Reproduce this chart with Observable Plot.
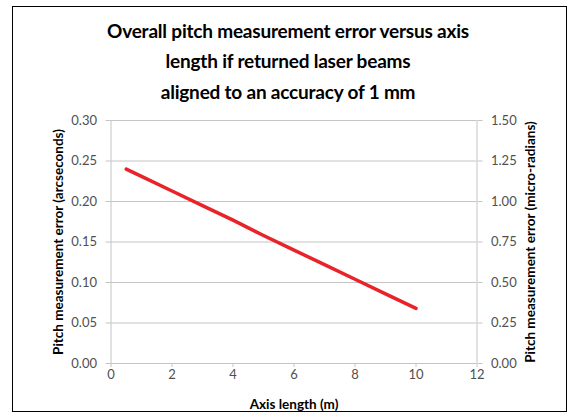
<!DOCTYPE html>
<html><head><meta charset="utf-8">
<script src="https://cdn.jsdelivr.net/npm/d3@7"></script>
<script src="https://cdn.jsdelivr.net/npm/@observablehq/plot@0.6"></script>
<style>
html,body{margin:0;padding:0;background:#fff;}
#wrap{position:relative;width:576px;height:417px;overflow:hidden;font-family:Lato,"Open Sans",sans-serif;background:#fff;}
#frame{position:absolute;left:12px;top:6px;width:555px;height:406px;border:1.5px solid #000;box-sizing:border-box;pointer-events:none;}
#title{height:105px;box-sizing:border-box;padding-top:16px;text-align:center;font-weight:bold;font-size:19px;letter-spacing:-0.2px;line-height:30.3px;color:#000;}
svg{display:block;}
</style></head>
<body>
<div id="wrap">
  <div id="title">Overall pitch measurement error versus axis<br>length if returned laser beams<br>aligned to an accuracy of 1 mm</div>
  <div id="chart"></div>
  <div id="frame"></div>
</div>
<script>
const axisLength = [0.5, 1, 2, 3, 4, 5, 6, 7, 8, 9, 10];
const pitchArcsec = [0.240, 0.231, 0.213, 0.195, 0.177, 0.158, 0.140, 0.122, 0.104, 0.086, 0.068];
const xTicks = [0, 2, 4, 6, 8, 10, 12];
const xTickLabels = ["0", "2", "4", "6", "8", "10", "12"];
const yTicks = [0, 0.05, 0.10, 0.15, 0.20, 0.25, 0.30];
const leftTickLabels = ["0.00", "0.05", "0.10", "0.15", "0.20", "0.25", "0.30"];
const rightTickLabels = ["0.00", "0.25", "0.50", "0.75", "1.00", "1.25", "1.50"];
const xTitle = "Axis length (m)";
const yLeftTitle = "Pitch measurement error (arcseconds)";
const yRightTitle = "Pitch measurement error (micro-radians)";

const data = axisLength.map((x, i) => ({x, y: pitchArcsec[i]}));
const font = 'Lato, "Open Sans", sans-serif';
const tickColor = "#505050";
const gridColor = "#c4c4c4";

const chart = Plot.plot({
  width: 576, height: 312,
  marginLeft: 110.5, marginRight: 99.5, marginTop: 15, marginBottom: 54,
  style: {fontFamily: font, fontSize: "13px", color: tickColor, background: "transparent", overflow: "visible"},
  x: {domain: [0, 12]},
  y: {domain: [0, 0.3]},
  marks: [
    Plot.ruleY(yTicks, {stroke: gridColor, strokeWidth: 1}),
    Plot.ruleX([0, 12], {stroke: gridColor, strokeWidth: 1}),
    Plot.axisX({ticks: xTicks, tickFormat: d => xTickLabels[xTicks.indexOf(d)], tickSize: 4, tickPadding: 2, stroke: gridColor, fill: tickColor, label: null}),
    Plot.axisY({anchor: "left", ticks: yTicks, tickFormat: d => leftTickLabels[yTicks.indexOf(d)], tickSize: 5, tickPadding: 9, stroke: gridColor, fill: tickColor, label: null}),
    Plot.axisY({anchor: "right", ticks: yTicks, tickFormat: d => rightTickLabels[yTicks.indexOf(d)], tickSize: 5, tickPadding: 9, stroke: gridColor, fill: tickColor, label: null}),
    Plot.line(data, {x: "x", y: "y", stroke: "#e8232a", strokeWidth: 3.5}),
    Plot.text([yLeftTitle], {frameAnchor: "left", textAnchor: "middle", rotate: -90, dx: -52, fontWeight: "bold", fill: "#000", fontSize: 13.5}),
    Plot.text([yRightTitle], {frameAnchor: "right", textAnchor: "middle", rotate: -90, dx: 53.5, fontWeight: "bold", fill: "#000", fontSize: 13.5}),
    Plot.text([xTitle], {frameAnchor: "bottom", dy: 45, fontWeight: "bold", fill: "#000", fontSize: 13.5})
  ]
});
document.getElementById("chart").appendChild(chart);
</script>
</body></html>
